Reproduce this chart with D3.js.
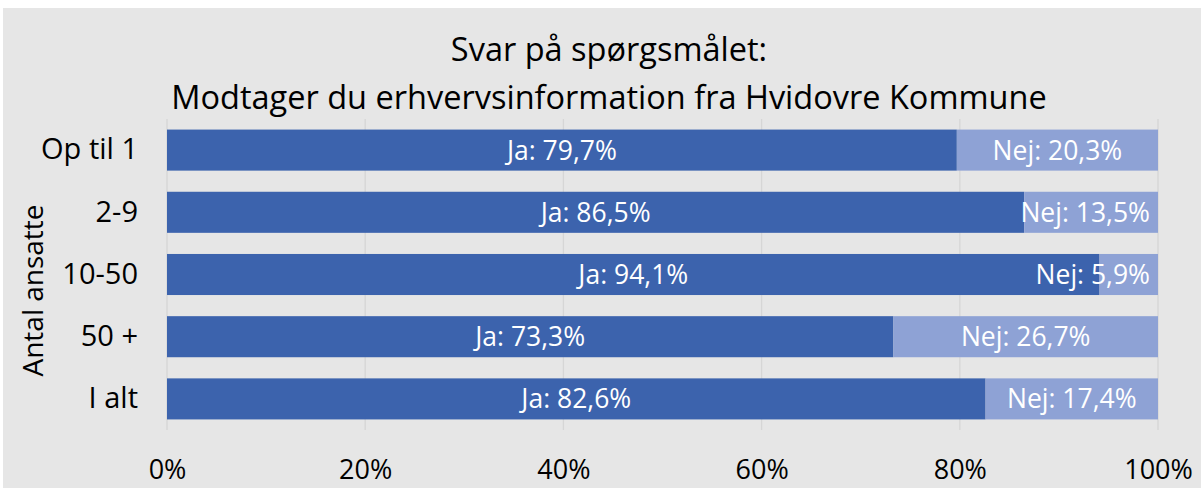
<!DOCTYPE html>
<html>
<head>
<meta charset="utf-8">
<script src="https://cdn.jsdelivr.net/npm/d3@7"></script>
<style>
  body { margin: 0; background: #fff; }
  text { font-family: "Open Sans", sans-serif; }
</style>
</head>
<body>
<script>
// data
var categories = ["Op til 1", "2-9", "10-50", "50 +", "I alt"];
var jaValues = [79.7, 86.5, 94.1, 73.3, 82.6];
var nejValues = [20.3, 13.5, 5.9, 26.7, 17.4];
var xTicks = [0, 20, 40, 60, 80, 100];

var W = 1201, H = 488;
var margin = {top: 119, right: 43, bottom: 58, left: 167}
, width = W - margin.left - margin.right
, height = H - margin.top - margin.bottom;

var svg = d3.select("body").append("svg")
  .attr("width", W)
  .attr("height", H);

// grey chart area
svg.append("rect")
  .attr("x", 3).attr("y", 8)
  .attr("width", W - 3).attr("height", H - 8)
  .attr("fill", "#e6e6e6");

var x = d3.scaleLinear().domain([0, 100]).range([0, width]);
var y = d3.scaleBand().domain(categories).range([0, height])
  .paddingInner(0.34).paddingOuter(0.17);

var main = svg.append("g")
  .attr("transform", "translate(" + margin.left + "," + margin.top + ")");

// gridlines
main.selectAll(".grid")
  .data(xTicks)
  .enter().append("line")
  .attr("x1", function(d) { return x(d); })
  .attr("x2", function(d) { return x(d); })
  .attr("y1", 0).attr("y2", height)
  .attr("stroke", "#d6d6d6")
  .attr("stroke-width", 1.3);

// x axis labels (baseline placed directly so the text box stays inside)
var xAxis = d3.axisBottom(x).tickValues(xTicks)
  .tickFormat(function(d) { return d + "%"; })
  .tickSize(0);
var gx = main.append("g").attr("transform", "translate(0," + height + ")").call(xAxis);
gx.select(".domain").remove();
gx.selectAll("text")
  .attr("font-family", "Open Sans").attr("font-size", 27).attr("fill", "#000")
  .attr("y", 49).attr("dy", null);

// y axis labels
var yAxis = d3.axisLeft(y).tickSize(0).tickPadding(29);
var gy = main.append("g").call(yAxis);
gy.select(".domain").remove();
gy.selectAll("text").attr("font-family", "Open Sans").attr("font-size", 29).attr("fill", "#000");

// bars
var rows = categories.map(function(c, i) {
  return {cat: c, ja: jaValues[i], nej: nejValues[i]};
});

var bar = main.selectAll(".row")
  .data(rows)
  .enter().append("g")
  .attr("transform", function(d) { return "translate(0," + y(d.cat) + ")"; });

bar.append("rect")
  .attr("x", 0)
  .attr("width", function(d) { return x(d.ja); })
  .attr("height", y.bandwidth())
  .attr("fill", "#3c63ad");

bar.append("rect")
  .attr("x", function(d) { return x(d.ja); })
  .attr("width", function(d) { return x(d.ja + d.nej) - x(d.ja); })
  .attr("height", y.bandwidth())
  .attr("fill", "#8ea2d5");

var fmt = function(v) { return v.toFixed(1).replace(".", ","); };

bar.append("text")
  .attr("x", function(d) { return x(d.ja / 2); })
  .attr("y", y.bandwidth() / 2)
  .attr("dy", "0.36em")
  .attr("text-anchor", "middle")
  .attr("font-size", 26.5)
  .attr("fill", "#fff")
  .text(function(d) { return "Ja: " + fmt(d.ja) + "%"; });

bar.append("text")
  .attr("y", y.bandwidth() / 2)
  .attr("dy", "0.36em")
  .attr("text-anchor", "middle")
  .attr("font-size", 26.5)
  .attr("fill", "#fff")
  .text(function(d) { return "Nej: " + fmt(d.nej) + "%"; })
  .attr("x", function(d) {
    var w = this.getComputedTextLength();
    var cx = x(d.ja + d.nej / 2);
    // keep label inside plot like Excel does
    return Math.min(cx, width - 8 - w / 2);
  });

// title
svg.append("text")
  .attr("x", 609).attr("y", 61)
  .attr("text-anchor", "middle")
  .attr("font-size", 32.5)
  .text("Svar på spørgsmålet:");
svg.append("text")
  .attr("x", 609).attr("y", 109)
  .attr("text-anchor", "middle")
  .attr("font-size", 32.5)
  .text("Modtager du erhvervsinformation fra Hvidovre Kommune");

// y axis title
svg.append("text")
  .attr("transform", "translate(43," + (margin.top + height / 2 + 16) + ") rotate(-90)")
  .attr("text-anchor", "middle")
  .attr("font-size", 28)
  .text("Antal ansatte");
</script>
</body>
</html>
